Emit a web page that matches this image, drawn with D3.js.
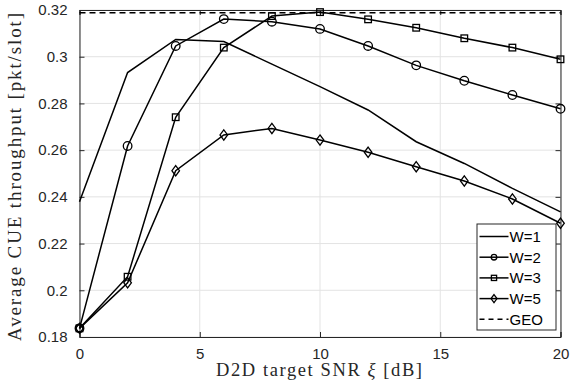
<!DOCTYPE html>
<html>
<head>
<meta charset="utf-8">
<script src="https://cdn.jsdelivr.net/npm/d3@7"></script>
<style>
  body { margin: 0; background: #fff; }
  svg { display: block; }
</style>
</head>
<body>
<div id="chart"></div>
<script>
// values
const snr = [0, 2, 4, 6, 8, 10, 12, 14, 16, 18, 20];
const w1 = [0.2379, 0.2932, 0.3074, 0.3065, 0.2968, 0.2872, 0.2772, 0.2636, 0.2543, 0.2436, 0.2336];
const w2 = [0.1837, 0.2618, 0.3046, 0.3161, 0.3150, 0.3119, 0.3046, 0.2963, 0.2897, 0.2836, 0.2777];
const w3 = [0.1837, 0.2058, 0.2741, 0.3039, 0.3174, 0.3191, 0.3160, 0.3124, 0.3079, 0.3039, 0.2989];
const w5 = [0.1837, 0.2032, 0.2512, 0.2665, 0.2693, 0.2643, 0.2591, 0.2529, 0.2468, 0.2391, 0.2287];
const geo = 0.3188;
const xTicks = [0, 5, 10, 15, 20];
const yTicks = [0.18, 0.2, 0.22, 0.24, 0.26, 0.28, 0.3, 0.32];
const seriesNames = ['W=1', 'W=2', 'W=3', 'W=5', 'GEO'];

const width = 571;
const height = 389;
const margin = { top: 10, right: 10.5, bottom: 52, left: 79.5 };

const x = d3.scaleLinear().domain([0, 20]).range([margin.left, width - margin.right]);
const y = d3.scaleLinear().domain([0.18, 0.32]).range([height - margin.bottom, margin.top]);

const svg = d3.select('#chart').append('svg')
  .attr('width', width)
  .attr('height', height);

const axisColor = '#262626';
const tickFont = '"Liberation Sans", Arial, sans-serif';
const labelFont = '"Liberation Serif", "DejaVu Serif", serif';

// grid
const grid = svg.append('g').attr('stroke', '#e3e3e3').attr('stroke-width', 1);
xTicks.forEach(t => {
  grid.append('line').attr('x1', x(t)).attr('x2', x(t)).attr('y1', y(0.18)).attr('y2', y(0.32));
});
yTicks.forEach(t => {
  grid.append('line').attr('x1', x(0)).attr('x2', x(20)).attr('y1', y(t)).attr('y2', y(t));
});

// box + inward ticks
const fmt = d => (d === 0.2 ? '0.2' : d === 0.3 ? '0.3' : d3.format('.2f')(d));
svg.append('g')
  .attr('transform', `translate(0,${y(0.18)})`)
  .call(d3.axisBottom(x).tickValues(xTicks).tickSize(-5).tickPadding(8).tickFormat(d3.format('d')))
  .call(g => g.selectAll('text').attr('font-size', 15).attr('font-family', tickFont).attr('fill', axisColor).attr('dy', '0.9em'));
svg.append('g')
  .attr('transform', `translate(${x(0)},0)`)
  .call(d3.axisLeft(y).tickValues(yTicks).tickSize(-5).tickPadding(12).tickFormat(fmt))
  .call(g => g.selectAll('text').attr('font-size', 15).attr('font-family', tickFont).attr('fill', axisColor));
svg.append('g')
  .attr('transform', `translate(0,${y(0.32)})`)
  .call(d3.axisTop(x).tickValues(xTicks).tickSize(-5).tickFormat(''));
svg.append('g')
  .attr('transform', `translate(${x(20)},0)`)
  .call(d3.axisRight(y).tickValues(yTicks).tickSize(-5).tickFormat(''));
svg.selectAll('.domain, .tick line').attr('stroke', axisColor);

// GEO dashed line
svg.append('line')
  .attr('x1', x(0)).attr('x2', x(20))
  .attr('y1', y(geo)).attr('y2', y(geo))
  .attr('stroke', '#000').attr('stroke-width', 1.5).attr('stroke-dasharray', '6,4');

const line = d3.line().x(d => x(d[0])).y(d => y(d[1]));
const series = [w1, w2, w3, w5];
series.forEach(vals => {
  svg.append('path')
    .datum(snr.map((s, i) => [s, vals[i]]))
    .attr('d', line)
    .attr('fill', 'none')
    .attr('stroke', '#000')
    .attr('stroke-width', 1.5);
});

const drawMarker = (g, type, cx, cy, s) => {
  if (type === 'circle') {
    g.append('circle').attr('cx', cx).attr('cy', cy).attr('r', s);
  } else if (type === 'square') {
    g.append('rect').attr('x', cx - s).attr('y', cy - s).attr('width', 2 * s).attr('height', 2 * s);
  } else if (type === 'diamond') {
    g.append('path').attr('d', `M${cx},${cy - s * 1.35}L${cx + s},${cy}L${cx},${cy + s * 1.35}L${cx - s},${cy}Z`);
  }
};

const markerTypes = [null, 'circle', 'square', 'diamond'];
const markerSizes = [0, 4.3, 3.3, 3.8];
series.forEach((vals, k) => {
  if (!markerTypes[k]) return;
  const g = svg.append('g').attr('fill', 'none').attr('stroke', '#000').attr('stroke-width', 1.3);
  snr.forEach((s, i) => drawMarker(g, markerTypes[k], x(s), y(vals[i]), markerSizes[k]));
});

// legend
const lg = svg.append('g').attr('transform', 'translate(477,224)');
lg.append('rect').attr('width', 79).attr('height', 106)
  .attr('fill', '#fff').attr('stroke', axisColor).attr('stroke-width', 1);
const legendMarks = [null, 'circle', 'square', 'diamond', null];
const legendSizes = [0, 2.8, 2.6, 3];
seriesNames.forEach((name, i) => {
  const cy = 12.5 + i * 20.7;
  lg.append('line').attr('x1', 2.5).attr('x2', 31.5).attr('y1', cy).attr('y2', cy)
    .attr('stroke', '#000').attr('stroke-width', 1.5)
    .attr('stroke-dasharray', name === 'GEO' ? '5,4' : null);
  if (legendMarks[i]) {
    const g = lg.append('g').attr('fill', 'none').attr('stroke', '#000').attr('stroke-width', 1.3);
    drawMarker(g, legendMarks[i], 17, cy, legendSizes[i]);
  }
  lg.append('text').attr('x', 32.5).attr('y', cy).attr('dy', '0.36em')
    .attr('font-family', tickFont).attr('font-size', 15).attr('fill', '#000').text(name);
});

// axis labels (LaTeX-style serif, stretched to the reference's extent)
const xl = svg.append('text')
  .attr('x', 319).attr('y', 376)
  .attr('text-anchor', 'middle')
  .attr('font-family', labelFont).attr('font-size', 18.5).attr('fill', axisColor)
  .attr('textLength', 206).attr('lengthAdjust', 'spacing');
xl.append('tspan').text('D2D target SNR ');
xl.append('tspan').attr('font-style', 'italic').text('ξ');
xl.append('tspan').text(' [dB]');
svg.append('text')
  .attr('transform', 'translate(21,177) rotate(-90)')
  .attr('text-anchor', 'middle')
  .attr('font-family', labelFont).attr('font-size', 19).attr('fill', axisColor)
  .attr('textLength', 328).attr('lengthAdjust', 'spacing')
  .text('Average CUE throughput [pkt/slot]');
</script>
</body>
</html>
